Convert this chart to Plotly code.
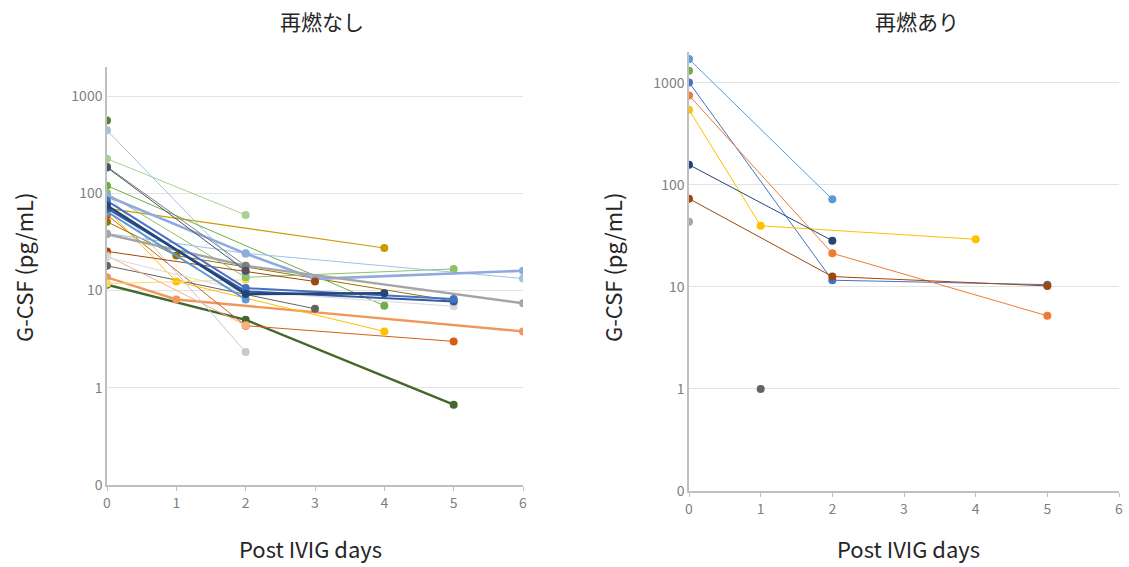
import plotly.graph_objects as go

# ---------------- data ----------------
# Left panel: 再燃なし  (days, G-CSF values)
nr_days = [
    [0, 2, 5], [0, 1, 6], [0, 2, 5], [0, 2], [0, 3], [0, 1, 4], [0, 2], [0, 4],
    [0, 1, 5], [0, 2], [0, 2], [0, 4], [0, 2, 5], [0, 2, 6], [0, 2, 3, 6],
    [0, 2, 6], [0, 2], [0, 2], [0, 3], [0, 2], [0, 2, 5], [0], [0, 2],
    [0, 2, 5], [0, 2, 5], [0, 2, 4],
]
nr_vals = [
    [11.5, 5.0, 0.67], [13.7, 8.1, 3.8], [60, 4.35, 3.0], [100, 2.33], [18, 6.5],
    [68, 12.4, 3.8], [11.8, 12.9], [70, 27.4], [51, 22.9, 7.8], [227, 60],
    [445, 15], [120, 7.0], [100, 13.7, 16.7], [38.7, 24.2, 13.3],
    [94, 24, 13.2, 16], [38, 18, 7.4], [188, 18], [185, 16], [25.3, 12.4],
    [22.9, 4.4], [22, 9.8, 6.9], [563], [65, 8.1], [70, 9.8, 7.7],
    [84, 10.6, 8.2], [75, 9.2, 9.4],
]
# Right panel: 再燃あり
r_days = [[0, 2], [0], [0, 2, 5], [0, 2, 5], [0, 1, 4], [0, 2], [0, 2, 5], [0], [1]]
r_vals = [
    [1700, 72], [1310], [1005, 11.6, 10.5], [750, 21.3, 5.2], [542, 39.6, 29.2],
    [157, 28.3], [73, 12.6, 10.2], [43.4], [1.0],
]

y_tickvals = [0.1, 1, 10, 100, 1000]
y_ticktext = ["0", "1", "10", "100", "1000"]
x_ticks = [0, 1, 2, 3, 4, 5, 6]

# ---------------- styles ----------------
nr_colors = [
    "#43682B", "#F1975A", "#D26012", "#C9C9C9", "#636363", "#FFC000", "#FFD966",
    "#CC9A00", "#997300", "#A9D18E", "#9DC3E6", "#70AD47", "#8CC168", "#9DC3E6",
    "#8FAADC", "#A5A5A5", "#7F7F7F", "#44546A", "#9E480E", "#F4B183", "#D9D9D9",
    "#548235", "#5B9BD5", "#335AA1", "#4472C4", "#264478",
]
nr_widths = [
    2.4, 2.4, 1, 1, 1, 1, 1, 1.2, 1, 1, 1, 1, 1, 1, 2.6, 2.4, 1, 1, 1, 1, 1,
    1, 2, 2, 2, 2.6,
]
r_colors = ["#5B9BD5", "#70AD47", "#4472C4", "#ED7D31", "#FFC000", "#264478",
            "#9E480E", "#A5A5A5", "#636363"]

fig = go.Figure()

for d, v, c, w in zip(nr_days, nr_vals, nr_colors, nr_widths):
    fig.add_trace(go.Scatter(x=d, y=v, mode="lines+markers",
                             line=dict(color=c, width=w),
                             marker=dict(color=c, size=8),
                             xaxis="x", yaxis="y", showlegend=False))
for d, v, c in zip(r_days, r_vals, r_colors):
    fig.add_trace(go.Scatter(x=d, y=v, mode="lines+markers",
                             line=dict(color=c, width=1),
                             marker=dict(color=c, size=8),
                             xaxis="x2", yaxis="y2", showlegend=False))

W, H = 1129, 567


def px(v):
    return v / W


def py(v):
    return 1 - v / H


tickfont = dict(family="Noto Sans CJK JP", size=14, color="#7F7F7F")
xcommon = dict(range=[0, 6], tickvals=x_ticks, showgrid=False, zeroline=False,
               showline=True, linecolor="#BFBFBF", linewidth=1.5,
               ticks="outside", ticklen=4, tickcolor="#BFBFBF",
               tickfont=tickfont, automargin=False, fixedrange=True)
ycommon = dict(type="log", range=[-1, 3.3], tickvals=y_tickvals, ticktext=y_ticktext,
               showgrid=True, gridcolor="#E3E3E3", gridwidth=1, zeroline=False,
               showline=True, linecolor="#BFBFBF", linewidth=1.5,
               ticks="", tickfont=tickfont, automargin=False, fixedrange=True)

fig.update_layout(
    width=W, height=H,
    margin=dict(l=0, r=0, t=0, b=0),
    paper_bgcolor="white", plot_bgcolor="white",
    xaxis=dict(domain=[px(107), px(523)], anchor="y", **xcommon),
    yaxis=dict(domain=[py(485), py(67)], anchor="x", **ycommon),
    xaxis2=dict(domain=[px(689), px(1119)], anchor="y2", **xcommon),
    yaxis2=dict(domain=[py(491), py(52)], anchor="x2", **ycommon),
)

titlefont = dict(family="Noto Sans CJK JP", size=21, color="#262626")
axfont = dict(family="Noto Sans CJK JP", size=22, color="#262626")
ann = [
    dict(text="再燃なし", x=px(322), y=py(21), font=titlefont),
    dict(text="再燃あり", x=px(917), y=py(21), font=titlefont),
    dict(text="Post IVIG days", x=px(310), y=py(548), font=axfont),
    dict(text="Post IVIG days", x=px(908), y=py(548), font=axfont),
    dict(text="G-CSF (pg/mL)", x=px(23), y=py(268), textangle=-90, font=axfont),
    dict(text="G-CSF (pg/mL)", x=px(612), y=py(268), textangle=-90, font=axfont),
]
for a in ann:
    fig.add_annotation(xref="paper", yref="paper", showarrow=False,
                       xanchor="center", yanchor="middle", **a)

fig.write_html(
    "out.html",
    config={"displayModeBar": False},
    post_script="document.body.style.margin='0px';document.body.style.overflow='hidden';",
)
